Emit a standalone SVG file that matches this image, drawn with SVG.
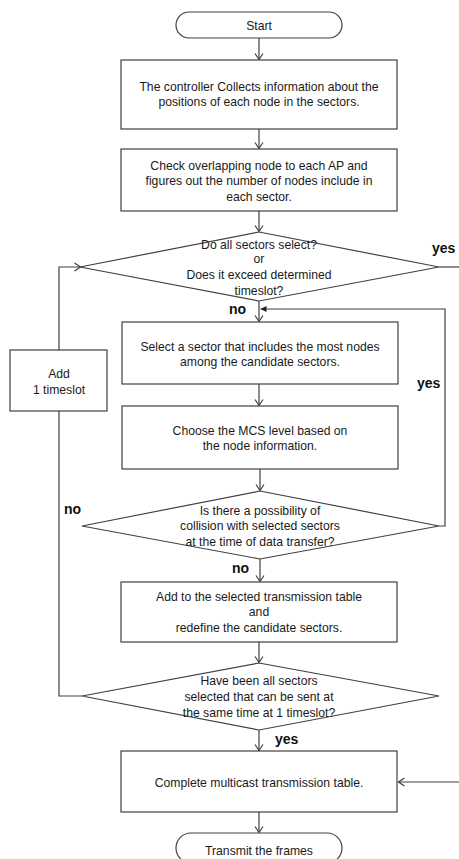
<svg xmlns="http://www.w3.org/2000/svg" width="459" height="859" viewBox="0 0 459 859">
<defs>
<marker id="open" markerWidth="10" markerHeight="10" refX="9" refY="5" orient="auto" markerUnits="userSpaceOnUse">
<path d="M3,1 L9,5 L3,9" fill="none" stroke="#404040" stroke-width="1.2"/>
</marker>
<marker id="filled" markerWidth="8" markerHeight="8" refX="7" refY="4" orient="auto" markerUnits="userSpaceOnUse">
<path d="M1,1 L7,4 L1,7 Z" fill="#202020"/>
</marker>
</defs>
<style>
.shape{fill:#fff;stroke:#404040;stroke-width:1.2}
.t{font-family:"Liberation Sans",Arial,sans-serif;font-size:12.2px;fill:#1a1a1a;text-anchor:middle}
.lbl{font-family:"Liberation Sans",Arial,sans-serif;font-size:14px;font-weight:bold;fill:#111}
.c{fill:none;stroke:#404040;stroke-width:1.2}
</style>
<rect width="459" height="859" fill="#fff"/>
<g id="connectors">
<path class="c" d="M259,38 V59.5" marker-end="url(#open)"/>
<path class="c" d="M259,129 V148.5" marker-end="url(#open)"/>
<path class="c" d="M259,211 V231.5" marker-end="url(#open)"/>
<path class="c" d="M259,301 V321.5" marker-end="url(#open)"/>
<path class="c" d="M259,384 V405.5" marker-end="url(#open)"/>
<path class="c" d="M260,469 V490.5" marker-end="url(#open)"/>
<path class="c" d="M260,559 V581.5" marker-end="url(#open)"/>
<path class="c" d="M259,642 V662.5" marker-end="url(#open)"/>
<path class="c" d="M259,730 V750.5" marker-end="url(#open)"/>
<path class="c" d="M259,812 V832.5" marker-end="url(#open)"/>
<path class="c" d="M439,267 H459"/>
<path class="c" d="M439,526 H445 V309 H260.5" marker-end="url(#filled)"/>
<path class="c" d="M82,696 H59 V411"/>
<path class="c" d="M59,350 V267 H80.5" marker-end="url(#open)"/>
<path class="c" d="M459,782 H398.5" marker-end="url(#open)"/>
<text class="lbl" x="432" y="253">yes</text>
<text class="lbl" x="229" y="314">no</text>
<text class="lbl" x="417" y="388">yes</text>
<text class="lbl" x="64" y="514">no</text>
<text class="lbl" x="232" y="573">no</text>
<text class="lbl" x="275" y="744">yes</text>
</g>
<g id="start">
<rect class="shape" x="176" y="12" width="166" height="26" rx="13" ry="13"/>
<text class="t" x="259" y="29.5">Start</text>
</g>
<g id="collect">
<rect class="shape" x="121" y="60" width="276" height="69"/>
<text class="t" x="259" y="90.5">The controller Collects information about the</text>
<text class="t" x="259" y="106">positions of each node in the sectors.</text>
</g>
<g id="check">
<rect class="shape" x="121" y="149" width="276" height="62"/>
<text class="t" x="259" y="169.5">Check overlapping node to each AP and</text>
<text class="t" x="259" y="185">figures out the number of nodes include in</text>
<text class="t" x="259" y="200.5">each sector.</text>
</g>
<g id="decision1">
<polygon class="shape" points="259,232 439,267 259,301 80,267"/>
<text class="t" x="259" y="248.5">Do all sectors select?</text>
<text class="t" x="259" y="263">or</text>
<text class="t" x="259" y="279">Does it exceed determined</text>
<text class="t" x="259" y="294.5">timeslot?</text>
</g>
<g id="add-timeslot">
<rect class="shape" x="10" y="350" width="97" height="61"/>
<text class="t" x="59" y="377.5">Add</text>
<text class="t" x="59" y="393.5">1 timeslot</text>
</g>
<g id="select">
<rect class="shape" x="122" y="322" width="276" height="62"/>
<text class="t" x="260" y="350.5">Select a sector that includes the most nodes</text>
<text class="t" x="260" y="365.5">among the candidate sectors.</text>
</g>
<g id="mcs">
<rect class="shape" x="122" y="406" width="276" height="63"/>
<text class="t" x="260" y="434.5">Choose the MCS level based on</text>
<text class="t" x="260" y="449.5">the node information.</text>
</g>
<g id="decision2">
<polygon class="shape" points="260,491 439,526 260,559 82,526"/>
<text class="t" x="260" y="514.5">Is there a possibility of</text>
<text class="t" x="260" y="529.5">collision with selected sectors</text>
<text class="t" x="260" y="545.5">at the time of data transfer?</text>
</g>
<g id="add-table">
<rect class="shape" x="121" y="582" width="276" height="60"/>
<text class="t" x="259" y="600.5">Add to the selected transmission table</text>
<text class="t" x="259" y="615.5">and</text>
<text class="t" x="259" y="631.5">redefine the candidate sectors.</text>
</g>
<g id="decision3">
<polygon class="shape" points="259,663 439,696 259,730 82,696"/>
<text class="t" x="259" y="684.5">Have been all sectors</text>
<text class="t" x="259" y="700.5">selected that can be sent at</text>
<text class="t" x="259" y="716.5">the same time at 1 timeslot?</text>
</g>
<g id="complete">
<rect class="shape" x="121" y="751" width="276" height="61"/>
<text class="t" x="259" y="786.5">Complete multicast transmission table.</text>
</g>
<g id="transmit">
<rect class="shape" x="176" y="833" width="166" height="30" rx="15" ry="15"/>
<text class="t" x="259" y="854.5">Transmit the frames</text>
</g>
</svg>
